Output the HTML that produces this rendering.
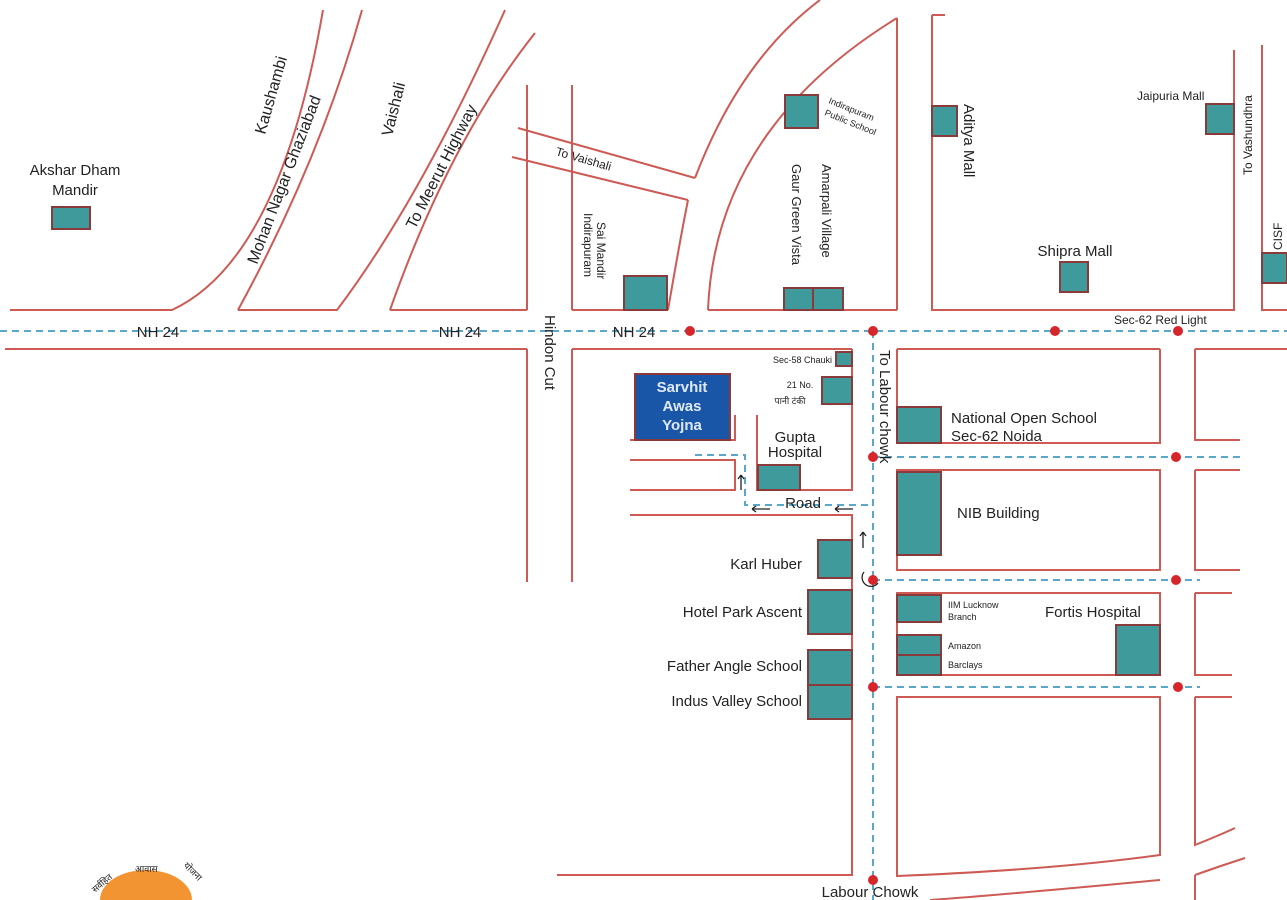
<!DOCTYPE html>
<html><head><meta charset="utf-8"><style>
html,body{margin:0;padding:0;background:#fff;}
svg{display:block;}
text{font-family:"Liberation Sans",sans-serif;fill:#222;}
</style></head><body>
<svg width="1287" height="900" viewBox="0 0 1287 900" xmlns="http://www.w3.org/2000/svg">
<g fill="none" stroke="#cd5a55" stroke-width="2">
<path d="M10,310H172 Q280,260 323,10"/>
<path d="M238,310 Q320,160 362,10"/>
<path d="M238,310H337 Q420,200 505,10"/>
<path d="M390,310H527"/>
<path d="M390,310 Q450,140 535,33"/>
<path d="M527,85V310 M572,85V310 M572,310H668"/>
<path d="M518,128L695,178 M512,157L688,200"/>
<path d="M668,310 Q680,240 688,200"/>
<path d="M695,178 Q740,60 820,0"/>
<path d="M708,310 Q715,130 897,18 M897,18V310 M708,310H897"/>
<path d="M932,15H945 M932,15V310H1234V50 M1262,45V310H1287"/>
<path d="M5,349H527 M572,349H852 M897,349H1160 M1195,349H1287"/>
<path d="M527,349V582 M572,349V582"/>
<path d="M852,349V490H757V415 M630,440H735V415"/>
<path d="M630,460H735V490H630"/>
<path d="M630,515H852V875H557"/>
<path d="M897,349V443H1160V349 M897,470H1160V570H897Z M897,593H1160V675H897Z"/>
<path d="M897,697H1160V855 Q1050,870 897,876Z"/>
<path d="M1160,880 Q1000,895 930,900"/>
<path d="M1195,349V440H1240 M1195,470H1240 M1195,470V570H1240 M1195,593H1232 M1195,593V675H1232 M1195,697H1232 M1195,697V845 Q1220,835 1235,828 M1195,875 Q1220,866 1245,858 M1195,875V900"/>
</g>
<g fill="none" stroke="#5aa7c9" stroke-width="2" stroke-dasharray="7,5">
<path d="M0,331H1287"/>
<path d="M873,331V900"/>
<path d="M873,457H1240 M873,580H1200 M873,687H1200"/>
<path d="M695,455H745V505H873"/>
</g>
<g fill="#d7262b">
<circle cx="690" cy="331" r="5"/><circle cx="873" cy="331" r="5"/><circle cx="1055" cy="331" r="5"/><circle cx="1178" cy="331" r="5"/>
<circle cx="873" cy="457" r="5"/><circle cx="1176" cy="457" r="5"/><circle cx="873" cy="580" r="5"/><circle cx="1176" cy="580" r="5"/>
<circle cx="873" cy="687" r="5"/><circle cx="1178" cy="687" r="5"/><circle cx="873" cy="880" r="5"/>
</g>
<g fill="#3f9a9c" stroke="#8a3a3a" stroke-width="2">
<rect x="52" y="207" width="38" height="22"/>
<rect x="785" y="95" width="33" height="33"/>
<rect x="932" y="106" width="25" height="30"/>
<rect x="1206" y="104" width="28" height="30"/>
<rect x="1060" y="262" width="28" height="30"/>
<rect x="1262" y="253" width="25" height="30"/>
<rect x="624" y="276" width="43" height="34"/>
<rect x="784" y="288" width="29" height="22"/><rect x="813" y="288" width="30" height="22"/>
<rect x="836" y="352" width="16" height="14"/>
<rect x="822" y="377" width="30" height="27"/>
<rect x="758" y="465" width="42" height="25"/>
<rect x="818" y="540" width="34" height="38"/>
<rect x="808" y="590" width="44" height="44"/>
<rect x="808" y="650" width="44" height="35"/><rect x="808" y="685" width="44" height="34"/>
<rect x="897" y="407" width="44" height="36"/>
<rect x="897" y="472" width="44" height="83"/>
<rect x="897" y="595" width="44" height="27"/>
<rect x="897" y="635" width="44" height="20"/><rect x="897" y="655" width="44" height="20"/>
<rect x="1116" y="625" width="44" height="50"/>
</g>
<rect x="635" y="374" width="95" height="66" fill="#1a56a8" stroke="#8a3a3a" stroke-width="2"/>
<g font-weight="bold" font-size="15" text-anchor="middle">
<text x="682" y="392" style="fill:#dfe9f7">Sarvhit</text><text x="682" y="411" style="fill:#dfe9f7">Awas</text><text x="682" y="430" style="fill:#dfe9f7">Yojna</text>
</g>
<g font-size="15">
<text x="75" y="175" text-anchor="middle">Akshar Dham</text>
<text x="75" y="195" text-anchor="middle">Mandir</text>
<text x="158" y="337" text-anchor="middle">NH 24</text>
<text x="460" y="337" text-anchor="middle">NH 24</text>
<text x="634" y="337" text-anchor="middle">NH 24</text>
<text transform="translate(265,135) rotate(-74)" font-size="16">Kaushambi</text>
<text transform="translate(257,265) rotate(-69)" font-size="16">Mohan Nagar Ghaziabad</text>
<text transform="translate(392,137) rotate(-76)" font-size="16">Vaishali</text>
<text transform="translate(415,230) rotate(-63)" font-size="16">To Meerut Highway</text>
<text transform="translate(545,315) rotate(90)">Hindon Cut</text>
<text x="1075" y="256" text-anchor="middle">Shipra Mall</text>
<text x="802" y="569" text-anchor="end">Karl Huber</text>
<text x="802" y="617" text-anchor="end">Hotel Park Ascent</text>
<text x="802" y="671" text-anchor="end">Father Angle School</text>
<text x="802" y="706" text-anchor="end">Indus Valley School</text>
<text x="951" y="423">National Open School</text>
<text x="951" y="441">Sec-62 Noida</text>
<text x="957" y="518">NIB Building</text>
<text x="1045" y="617">Fortis Hospital</text>
<text x="795" y="442" text-anchor="middle">Gupta</text>
<text x="795" y="457" text-anchor="middle">Hospital</text>
<text x="803" y="508" text-anchor="middle">Road</text>
<text x="870" y="897" text-anchor="middle">Labour Chowk</text>
<text transform="translate(964,104) rotate(90)">Aditya Mall</text>
<text transform="translate(880,350) rotate(90)">To Labour chowk</text>
</g>
<g font-size="12">
<text transform="translate(555,155) rotate(16)">To Vaishali</text>
<text transform="translate(597,222) rotate(90)">Sai Mandir</text>
<text transform="translate(584,213) rotate(90)">Indirapuram</text>
<text transform="translate(792,164) rotate(90)" font-size="13">Gaur Green Vista</text>
<text transform="translate(822,164) rotate(90)" font-size="13">Amarpali Village</text>
<text transform="translate(828,103) rotate(22)" font-size="9">Indirapuram</text>
<text transform="translate(824,115) rotate(22)" font-size="9">Public School</text>
<text x="1137" y="100">Jaipuria Mall</text>
<text transform="translate(1252,175) rotate(-90)">To Vashundhra</text>
<text transform="translate(1282,250) rotate(-90)">CISF</text>
<text x="1114" y="324">Sec-62 Red Light</text>
<text x="832" y="363" text-anchor="end" font-size="9">Sec-58 Chauki</text>
<text x="800" y="388" text-anchor="middle" font-size="9">21 No.</text>
<text x="790" y="404" text-anchor="middle" font-size="9">पानी टंकी</text>
<text x="948" y="608" font-size="9">IIM Lucknow</text>
<text x="948" y="620" font-size="9">Branch</text>
<text x="948" y="649" font-size="9">Amazon</text>
<text x="948" y="668" font-size="9">Barclays</text>
</g>
<g fill="none" stroke="#222" stroke-width="1.3">
<path d="M752,509H770 M752,509l4,-3 M752,509l4,3"/>
<path d="M835,509H853 M835,509l4,-3 M835,509l4,3"/>
<path d="M741,490V475 M741,475l-3,4 M741,475l3,4"/>
<path d="M863,548V532 M863,532l-3,4 M863,532l3,4"/>
<path d="M864,572 A8,8 0 1 0 878,583"/>
</g>
<path d="M100,900 A46,30 0 0 1 192,900Z" fill="#f39433"/>
<text transform="translate(95,893) rotate(-40)" font-size="9">सर्वहित</text>
<text x="135" y="872" font-size="9">आवास</text>
<text transform="translate(183,866) rotate(45)" font-size="9">योजना</text>
</svg>
</body></html>
